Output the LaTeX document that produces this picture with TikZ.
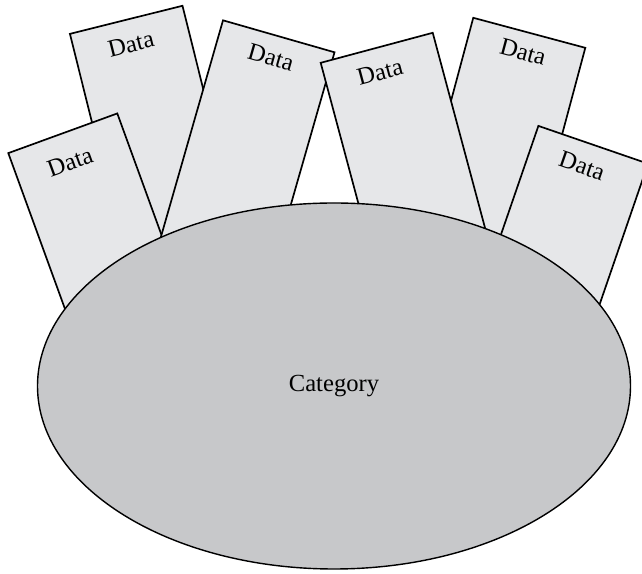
\documentclass[tikz,border=0pt]{standalone}
\usepackage{fontspec}
\setmainfont{Liberation Serif}
\usepackage{tikz}
\usetikzlibrary{shapes.geometric}
\definecolor{cardgray}{RGB}{230,231,233}
\definecolor{catgray}{RGB}{199,200,202}

\begin{document}
\begin{tikzpicture}[
    card/.style = {draw, line width=1.2pt, fill=cardgray, minimum width=2.9cm, minimum height=8cm, anchor=north, inner sep=0pt},
    cardtext/.style = {font=\fontsize{17.5}{20}\selectfont, inner sep=0pt},
    category/.style = {ellipse, draw, line width=1pt, fill=catgray, minimum width=14.825cm, minimum height=9.15cm, font=\fontsize{17.5}{20}\selectfont}]
  \clip (0,0) rectangle (16.05,14.35);
  % back cards
  \node[card, rotate=14] (d1) at (3.15,13.875) {};
  \node[cardtext, rotate=14] (t1) at (3.275,13.25) {Data};
  \node[card, rotate=-15] (d5) at (13.2375,13.55) {};
  \node[cardtext, rotate=-15] (t5) at (13.075,13.05) {Data};
  % front cards
  \node[card, rotate=20] (d3) at (1.5625,11.0375) {};
  \node[cardtext, rotate=20] (t3) at (1.75,10.3) {Data};
  \node[card, rotate=-16] (d2) at (6.975,13.4625) {};
  \node[cardtext, rotate=-16] (t2) at (6.775,12.925) {Data};
  \node[card, rotate=15] (d4) at (9.4125,13.175) {};
  \node[cardtext, rotate=15] (t4) at (9.5,12.55) {Data};
  \node[card, rotate=-19] (d6) at (14.8375,10.75) {};
  \node[cardtext, rotate=-19] (t6) at (14.55,10.2) {Data};
  % the category
  \node[category] (cat) at (8.35,4.7) {Category};
\end{tikzpicture}
\end{document}
